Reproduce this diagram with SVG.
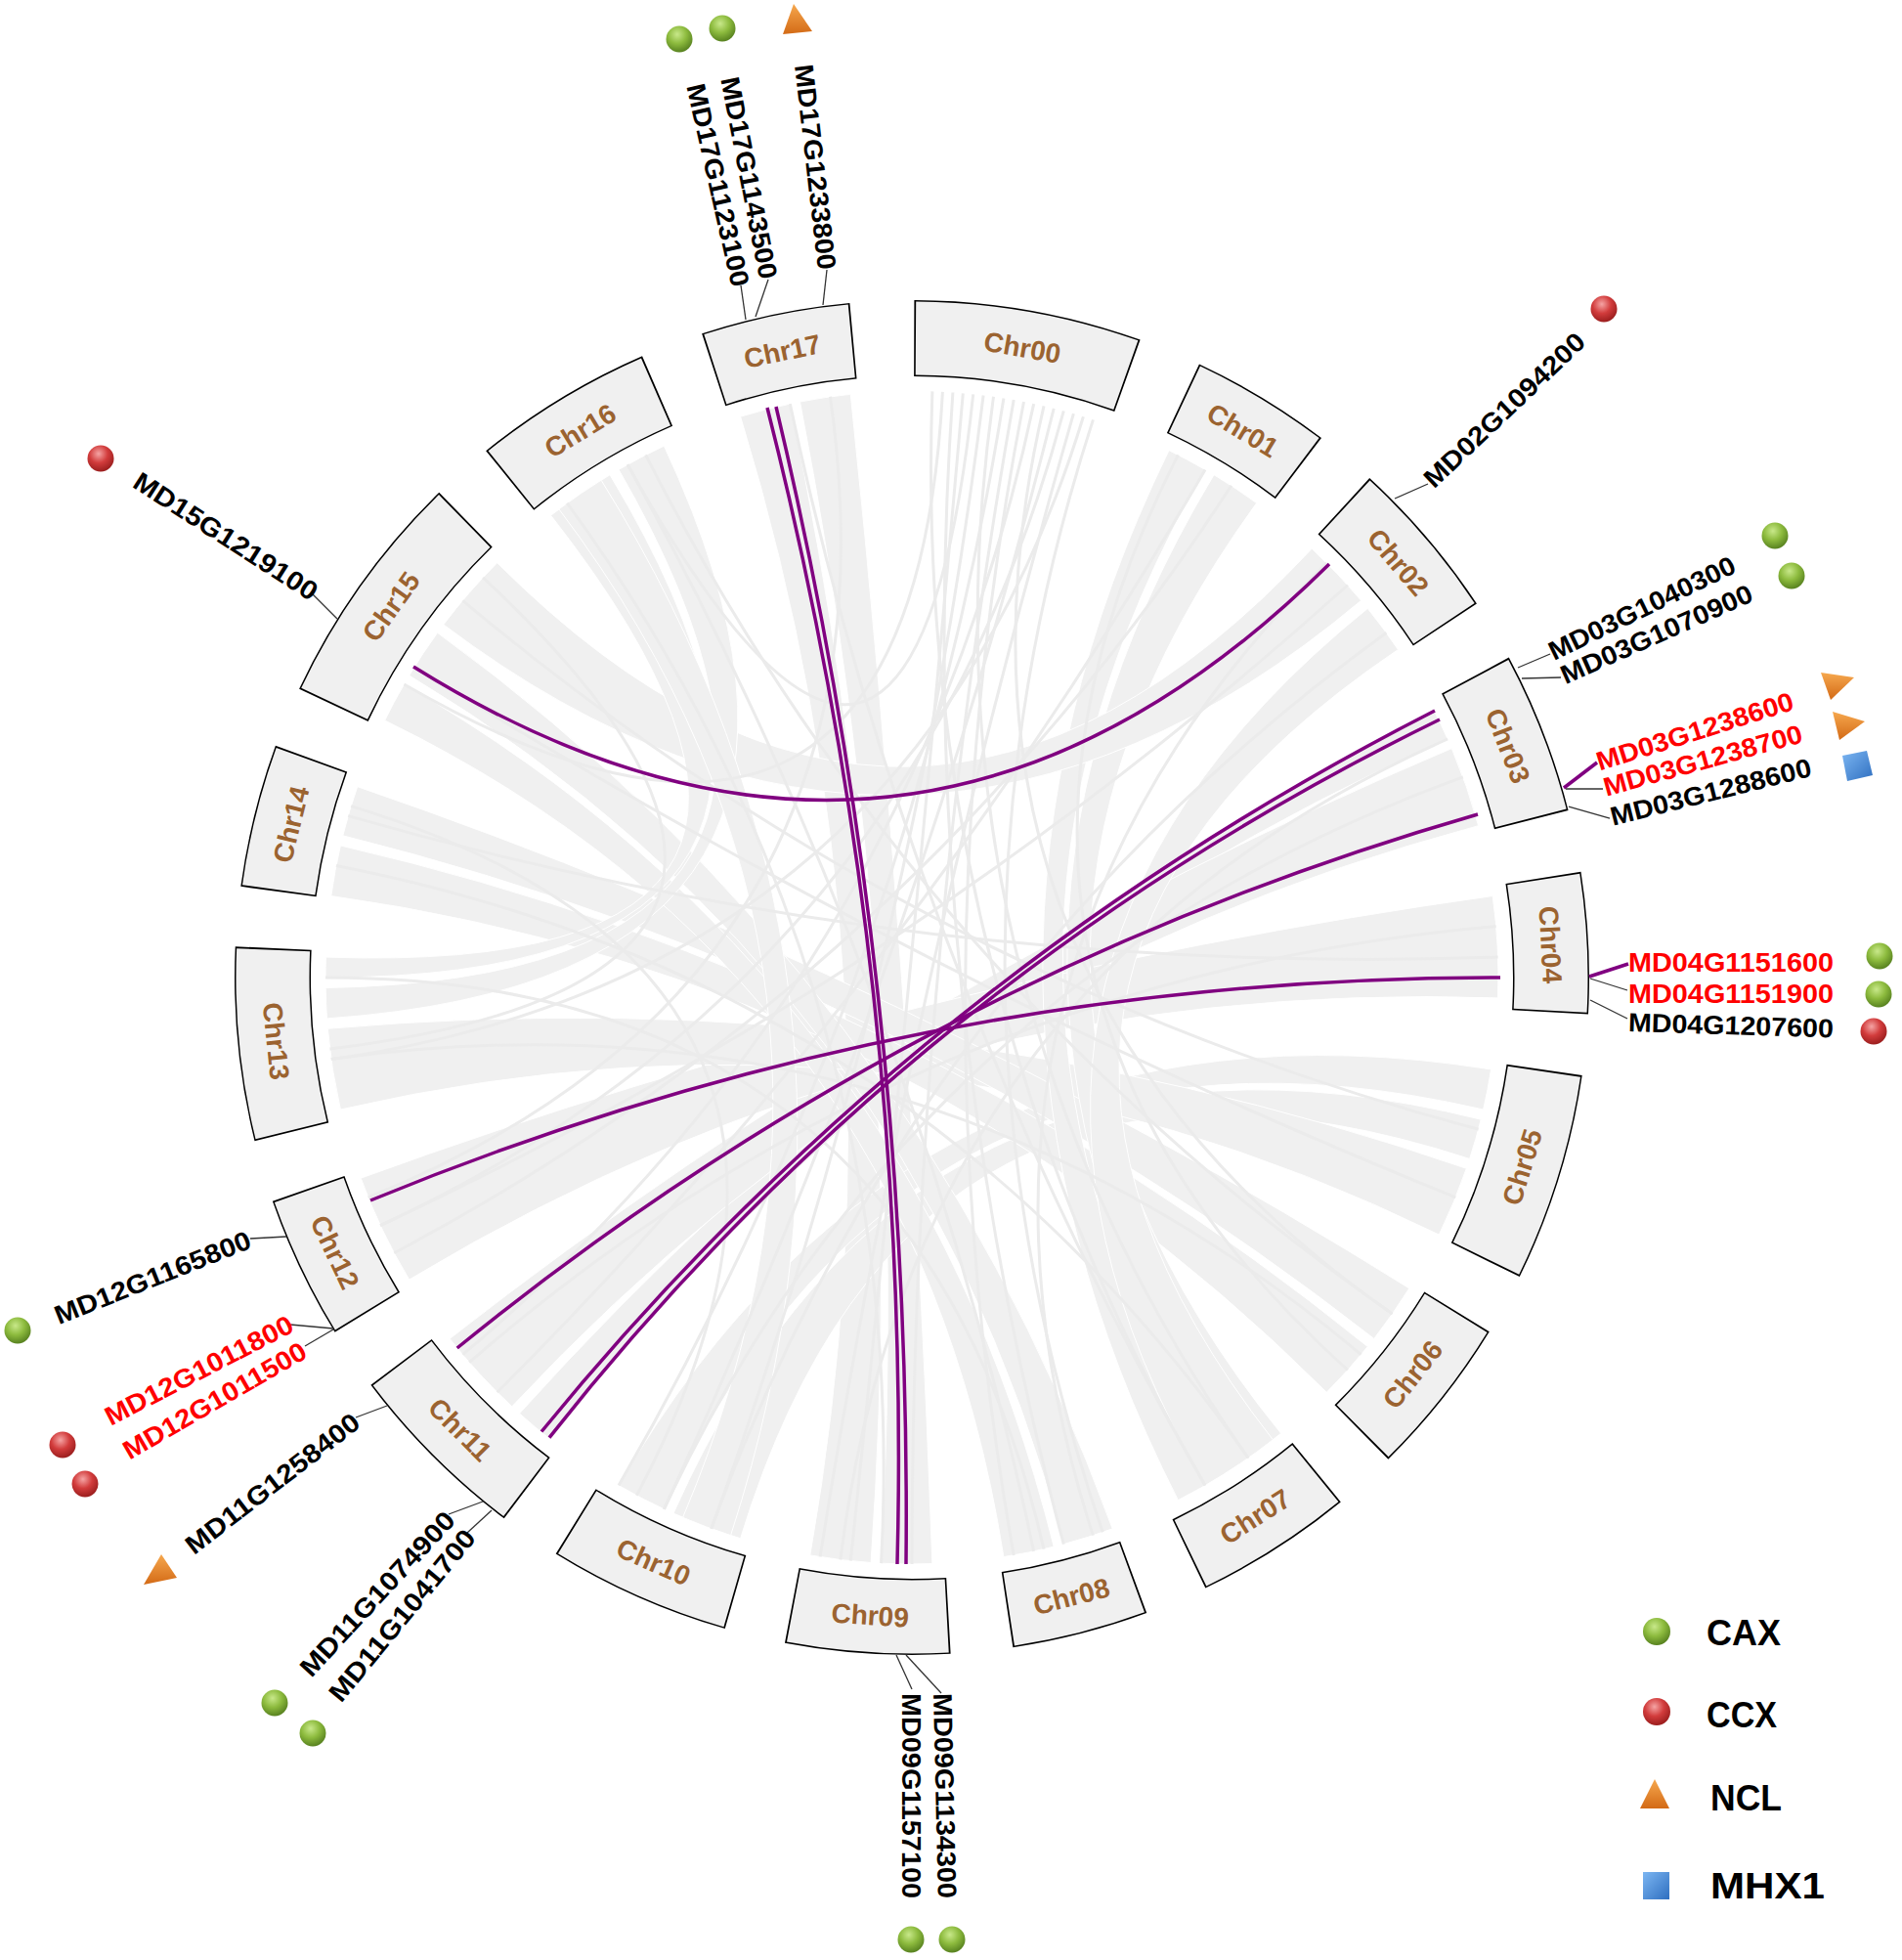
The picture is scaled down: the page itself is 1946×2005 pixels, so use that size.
<svg xmlns="http://www.w3.org/2000/svg" width="1946" height="2005" viewBox="0 0 1946 2005">
<defs>
<style>
.rb{fill:#f0f0f0;stroke:#ffffff;stroke-width:1}
.tl{fill:none;stroke:#ebebeb;stroke-width:3}
.pk{fill:none;stroke:#800080;stroke-width:3.5}
.bo{fill:none;stroke:#000;stroke-width:78}
.bi{fill:none;stroke:#f0f0f0;stroke-width:75}
.cl{font-family:"Liberation Sans",Arial,sans-serif;font-size:28px;font-weight:bold;fill:#9b6330;text-anchor:middle;dominant-baseline:central}
.g{font-family:"Liberation Sans",Arial,sans-serif;font-size:27px;font-weight:bold;fill:#000;dominant-baseline:central}
.r{fill:#ff0000}
.ld{fill:none;stroke:#333;stroke-width:1.3}
.pl{fill:none;stroke:#800080;stroke-width:3.5}
.lg{font-family:"Liberation Sans",Arial,sans-serif;font-size:37px;font-weight:bold;fill:#000}
.mg{fill:url(#gG)}
.mr{fill:url(#gR)}
.mo{fill:url(#gO)}
.mb{fill:url(#gB)}
</style>
<radialGradient id="gG" cx="0.42" cy="0.32" r="0.7"><stop offset="0" stop-color="#c8e88a"/><stop offset="0.5" stop-color="#8dbb3e"/><stop offset="1" stop-color="#557f1e"/></radialGradient>
<radialGradient id="gR" cx="0.42" cy="0.32" r="0.7"><stop offset="0" stop-color="#f5a4a4"/><stop offset="0.5" stop-color="#d23c3c"/><stop offset="1" stop-color="#981c1c"/></radialGradient>
<linearGradient id="gO" x1="0" y1="0" x2="0" y2="1"><stop offset="0" stop-color="#f6a84e"/><stop offset="1" stop-color="#d36a16"/></linearGradient>
<linearGradient id="gB" x1="0" y1="0" x2="1" y2="1"><stop offset="0" stop-color="#7cb6f2"/><stop offset="1" stop-color="#2f6fc0"/></linearGradient>
</defs>
<rect width="1946" height="2005" fill="#fff"/>

<g id="ribbons">
<path class="rb" d="M1467.6 727.6A600 600 0 0 1 1481.1 756Q933 1000 563.6 1472.8A600 600 0 0 1 531.5 1445.9Q933 1000 1467.6 727.6Z"/>
<path class="rb" d="M1485.3 765.6A600 600 0 0 1 1512.6 844.7Q933 1000 523.8 1438.8A600 600 0 0 1 460.2 1369.4Q933 1000 1485.3 765.6Z"/>
<path class="rb" d="M1527.2 916.5A600 600 0 0 1 1532.6 1020.9Q933 1000 418.7 1309A600 600 0 0 1 369.2 1205.2Q933 1000 1527.2 916.5Z"/>
<path class="rb" d="M953.9 1599.6A600 600 0 0 1 901.6 1599.2Q933 1000 818.5 411A600 600 0 0 1 870.3 403.3Q933 1000 953.9 1599.6Z"/>
<path class="rb" d="M891.1 1598.5A600 600 0 0 1 828.8 1590.9Q933 1000 757.6 426.2A600 600 0 0 1 808.3 413.1Q933 1000 891.1 1598.5Z"/>
<path class="rb" d="M1525.6 1093.9A600 600 0 0 1 1517.6 1135Q933 1000 679.4 1543.8A600 600 0 0 1 633 1519.6Q933 1000 1525.6 1093.9Z"/>
<path class="rb" d="M1515.2 1145.2A600 600 0 0 1 1503.6 1185.4Q933 1000 757.6 1573.8A600 600 0 0 1 689 1548.1Q933 1000 1515.2 1145.2Z"/>
<path class="rb" d="M1500.3 1195.3A600 600 0 0 1 1472.3 1263Q933 1000 348.4 1135A600 600 0 0 1 335.3 1052.3Q933 1000 1500.3 1195.3Z"/>
<path class="rb" d="M1441.8 1317.9A600 600 0 0 1 1405.8 1369.4Q933 1000 350.8 854.8A600 600 0 0 1 365.7 804.7Q933 1000 1441.8 1317.9Z"/>
<path class="rb" d="M1399.3 1377.6A600 600 0 0 1 1357.3 1424.3Q933 1000 338.8 916.5A600 600 0 0 1 348.4 865Q933 1000 1399.3 1377.6Z"/>
<path class="rb" d="M1196 460.7A600 600 0 0 1 1233 480.4Q933 1000 1250.9 1508.8A600 600 0 0 1 1205.4 1534.6Q933 1000 1196 460.7Z"/>
<path class="rb" d="M1242 485.7A600 600 0 0 1 1285.7 514.6Q933 1000 1310.6 1466.3A600 600 0 0 1 1259.8 1503.2Q933 1000 1242 485.7Z"/>
<path class="rb" d="M1138.2 1563.8A600 600 0 0 1 1088.3 1579.6Q933 1000 418.7 691A600 600 0 0 1 447.6 647.3Q933 1000 1138.2 1563.8Z"/>
<path class="rb" d="M1078.2 1582.2A600 600 0 0 1 1026.9 1592.6Q933 1000 393.7 737A600 600 0 0 1 413.4 700Q933 1000 1078.2 1582.2Z"/>
<path class="rb" d="M1342.2 561.2A600 600 0 0 1 1392.6 614.3Q933 1000 453.8 638.9A600 600 0 0 1 508.7 575.7Q933 1000 1342.2 561.2Z"/>
<path class="rb" d="M334.5 1041.9A600 600 0 0 1 333.1 1010.5Q933 1000 633 480.4A600 600 0 0 1 679.4 456.2Q933 1000 334.5 1041.9Z"/>
<path class="rb" d="M333 1000A600 600 0 0 1 333.4 979.1Q933 1000 563.6 527.2A600 600 0 0 1 624 485.7Q933 1000 333 1000Z"/>
<path class="rb" d="M1399.3 622.4A600 600 0 0 1 1430.4 664.5Q933 1000 1302.4 1472.8A600 600 0 0 1 1233 1519.6Q933 1000 1399.3 622.4Z"/>
<path class="rb" d="M747.6 1570.6A600 600 0 0 1 698.6 1552.3Q933 1000 571.9 520.8A600 600 0 0 1 615.1 491.2Q933 1000 747.6 1570.6Z"/>
</g>

<g id="thin-links">
<path class="tl" d="M953.9 400.4Q933 1000 1233 1519.6"/>
<path class="tl" d="M974.9 401.5Q933 1000 1088.3 1579.6"/>
<path class="tl" d="M985.3 402.3Q933 1000 870.3 1596.7"/>
<path class="tl" d="M1006.1 404.5Q933 1000 727.8 1563.8"/>
<path class="tl" d="M1016.5 405.8Q933 1000 1277.1 1491.5"/>
<path class="tl" d="M1026.9 407.4Q933 1000 633 1519.6"/>
<path class="tl" d="M1047.5 411Q933 1000 1037.2 1590.9"/>
<path class="tl" d="M1057.7 413.1Q933 1000 473.4 1385.7"/>
<path class="tl" d="M1068 415.4Q933 1000 1424.5 1344.1"/>
<path class="tl" d="M1088.3 420.4Q933 1000 389.2 1253.6"/>
<path class="tl" d="M1098.4 423.2Q933 1000 839.1 1592.6"/>
<path class="tl" d="M1108.4 426.2Q933 1000 338.8 1083.5"/>
<path class="tl" d="M1118.4 429.4Q933 1000 1128.3 1567.3"/>
<path class="tl" d="M964.4 400.8Q933 1000 413.4 700"/>
<path class="tl" d="M995.7 403.3Q933 1000 642.1 475.2"/>
<path class="tl" d="M1037.2 409.1Q933 1000 933 1600"/>
<path class="tl" d="M1078.2 417.8Q933 1000 679.4 1543.8"/>
<path class="tl" d="M580.3 514.6Q933 1000 901.6 1599.2"/>
<path class="tl" d="M642.1 475.2Q933 1000 1057.7 1586.9"/>
<path class="tl" d="M424.2 682.1Q933 1000 1489.3 1224.8"/>
<path class="tl" d="M356.2 834.6Q933 1000 1532.6 979.1"/>
<path class="tl" d="M389.2 1253.6Q933 1000 1378.9 598.5"/>
<path class="tl" d="M508.7 1424.3Q933 1000 1233 480.4"/>
<path class="tl" d="M679.4 1543.8Q933 1000 1496.8 794.8"/>
<path class="tl" d="M338.8 1083.5Q933 1000 1392.6 1385.7"/>
<path class="tl" d="M808.3 413.1Q933 1000 1233 1519.6"/>
<path class="tl" d="M1259.8 496.8Q933 1000 403.3 1281.7"/>
<path class="tl" d="M1418.4 647.3Q933 1000 727.8 1563.8"/>
<path class="tl" d="M1424.5 1344.1Q933 1000 660.6 465.4"/>
<path class="tl" d="M1277.1 1491.5Q933 1000 344 885.5"/>
<path class="tl" d="M1118.4 1570.6Q933 1000 1357.3 575.7"/>
<path class="tl" d="M1512.6 1155.3Q933 1000 473.4 614.3"/>
<path class="tl" d="M859.9 1595.5Q933 1000 1481.1 756"/>
<path class="tl" d="M1530.7 947.7Q933 1000 480.2 1393.6"/>
<path class="tl" d="M333 1000Q933 1000 1068 1584.6"/>
<path class="tl" d="M359.2 824.6Q933 1000 651.3 1529.7"/>
<path class="tl" d="M849.5 405.8Q933 1000 376.7 1224.8"/>
<path class="tl" d="M1205.4 465.4Q933 1000 1378.9 1401.5"/>
<path class="tl" d="M494.2 590.8Q933 1000 337.5 1073.1"/>
</g>

<g id="links">
<path class="pk" d="M423 682Q933 1000 1360 577"/>
<path class="pk" d="M785 417Q933 1000 918 1600"/>
<path class="pk" d="M794 416Q933 1000 927 1600"/>
<path class="pk" d="M1468 727Q933 1000 554 1464.5"/>
<path class="pk" d="M1473 736Q933 1000 562 1470.6"/>
<path class="pk" d="M1512 833Q933 1000 467.7 1379"/>
<path class="pk" d="M1535 1000Q933 1000 379 1228"/>
</g>

<g id="chr00"><circle class="bo" cx="933" cy="1000" r="654" stroke-dasharray="222.58 5000" stroke-dashoffset="-2.28" transform="rotate(-90 933 1000)"/><circle class="bi" cx="933" cy="1000" r="654" stroke-dasharray="219.16 5000" stroke-dashoffset="-3.995" transform="rotate(-90 933 1000)"/><text class="cl" x="933" y="346" transform="rotate(9.95 933 1000)">Chr00</text></g>
<g id="chr01"><circle class="bo" cx="933" cy="1000" r="654" stroke-dasharray="138.11 5000" stroke-dashoffset="-286.5" transform="rotate(-90 933 1000)"/><circle class="bi" cx="933" cy="1000" r="654" stroke-dasharray="134.69 5000" stroke-dashoffset="-288.21" transform="rotate(-90 933 1000)"/><text class="cl" x="933" y="346" transform="rotate(31.15 933 1000)">Chr01</text></g>
<g id="chr02"><circle class="bo" cx="933" cy="1000" r="654" stroke-dasharray="159.8 5000" stroke-dashoffset="-485.11" transform="rotate(-90 933 1000)"/><circle class="bi" cx="933" cy="1000" r="654" stroke-dasharray="156.38 5000" stroke-dashoffset="-486.82" transform="rotate(-90 933 1000)"/><text class="cl" x="933" y="346" transform="rotate(49.5 933 1000)">Chr02</text></g>
<g id="chr03"><circle class="bo" cx="933" cy="1000" r="654" stroke-dasharray="158.66 5000" stroke-dashoffset="-705.41" transform="rotate(-90 933 1000)"/><circle class="bi" cx="933" cy="1000" r="654" stroke-dasharray="155.24 5000" stroke-dashoffset="-707.12" transform="rotate(-90 933 1000)"/><text class="cl" x="933" y="346" transform="rotate(68.75 933 1000)">Chr03</text></g>
<g id="chr04"><circle class="bo" cx="933" cy="1000" r="654" stroke-dasharray="138.11 5000" stroke-dashoffset="-924.57" transform="rotate(-90 933 1000)"/><circle class="bi" cx="933" cy="1000" r="654" stroke-dasharray="134.69 5000" stroke-dashoffset="-926.28" transform="rotate(-90 933 1000)"/><text class="cl" x="933" y="346" transform="rotate(87.05 933 1000)">Chr04</text></g>
<g id="chr05"><circle class="bo" cx="933" cy="1000" r="654" stroke-dasharray="204.32 5000" stroke-dashoffset="-1122.04" transform="rotate(-90 933 1000)"/><circle class="bi" cx="933" cy="1000" r="654" stroke-dasharray="200.89 5000" stroke-dashoffset="-1123.75" transform="rotate(-90 933 1000)"/><text class="cl" x="933" y="346" transform="rotate(107.25 933 1000) rotate(180 933 346)">Chr05</text></g>
<g id="chr06"><circle class="bo" cx="933" cy="1000" r="654" stroke-dasharray="157.52 5000" stroke-dashoffset="-1386.85" transform="rotate(-90 933 1000)"/><circle class="bi" cx="933" cy="1000" r="654" stroke-dasharray="154.09 5000" stroke-dashoffset="-1388.56" transform="rotate(-90 933 1000)"/><text class="cl" x="933" y="346" transform="rotate(128.4 933 1000) rotate(180 933 346)">Chr06</text></g>
<g id="chr07"><circle class="bo" cx="933" cy="1000" r="654" stroke-dasharray="155.24 5000" stroke-dashoffset="-1606.01" transform="rotate(-90 933 1000)"/><circle class="bi" cx="933" cy="1000" r="654" stroke-dasharray="151.81 5000" stroke-dashoffset="-1607.72" transform="rotate(-90 933 1000)"/><text class="cl" x="933" y="346" transform="rotate(147.5 933 1000) rotate(180 933 346)">Chr07</text></g>
<g id="chr08"><circle class="bo" cx="933" cy="1000" r="654" stroke-dasharray="133.55 5000" stroke-dashoffset="-1822.88" transform="rotate(-90 933 1000)"/><circle class="bi" cx="933" cy="1000" r="654" stroke-dasharray="130.12 5000" stroke-dashoffset="-1824.59" transform="rotate(-90 933 1000)"/><text class="cl" x="933" y="346" transform="rotate(165.55 933 1000) rotate(180 933 346)">Chr08</text></g>
<g id="chr09"><circle class="bo" cx="933" cy="1000" r="654" stroke-dasharray="160.94 5000" stroke-dashoffset="-2016.92" transform="rotate(-90 933 1000)"/><circle class="bi" cx="933" cy="1000" r="654" stroke-dasharray="157.52 5000" stroke-dashoffset="-2018.64" transform="rotate(-90 933 1000)"/><text class="cl" x="933" y="346" transform="rotate(183.75 933 1000) rotate(180 933 346)">Chr09</text></g>
<g id="chr10"><circle class="bo" cx="933" cy="1000" r="654" stroke-dasharray="179.21 5000" stroke-dashoffset="-2237.22" transform="rotate(-90 933 1000)"/><circle class="bi" cx="933" cy="1000" r="654" stroke-dasharray="175.78 5000" stroke-dashoffset="-2238.93" transform="rotate(-90 933 1000)"/><text class="cl" x="933" y="346" transform="rotate(203.85 933 1000) rotate(180 933 346)">Chr10</text></g>
<g id="chr11"><circle class="bo" cx="933" cy="1000" r="654" stroke-dasharray="182.63 5000" stroke-dashoffset="-2476.92" transform="rotate(-90 933 1000)"/><circle class="bi" cx="933" cy="1000" r="654" stroke-dasharray="179.21 5000" stroke-dashoffset="-2478.64" transform="rotate(-90 933 1000)"/><text class="cl" x="933" y="346" transform="rotate(225 933 1000) rotate(180 933 346)">Chr11</text></g>
<g id="chr12"><circle class="bo" cx="933" cy="1000" r="654" stroke-dasharray="140.4 5000" stroke-dashoffset="-2721.19" transform="rotate(-90 933 1000)"/><circle class="bi" cx="933" cy="1000" r="654" stroke-dasharray="136.97 5000" stroke-dashoffset="-2722.91" transform="rotate(-90 933 1000)"/><text class="cl" x="933" y="346" transform="rotate(244.55 933 1000) rotate(180 933 346)">Chr12</text></g>
<g id="chr13"><circle class="bo" cx="933" cy="1000" r="654" stroke-dasharray="189.48 5000" stroke-dashoffset="-2922.09" transform="rotate(-90 933 1000)"/><circle class="bi" cx="933" cy="1000" r="654" stroke-dasharray="186.05 5000" stroke-dashoffset="-2923.8" transform="rotate(-90 933 1000)"/><text class="cl" x="933" y="346" transform="rotate(264.3 933 1000) rotate(180 933 346)">Chr13</text></g>
<g id="chr14"><circle class="bo" cx="933" cy="1000" r="654" stroke-dasharray="140.4 5000" stroke-dashoffset="-3169.78" transform="rotate(-90 933 1000)"/><circle class="bi" cx="933" cy="1000" r="654" stroke-dasharray="136.97 5000" stroke-dashoffset="-3171.49" transform="rotate(-90 933 1000)"/><text class="cl" x="933" y="346" transform="rotate(283.85 933 1000)">Chr14</text></g>
<g id="chr15"><circle class="bo" cx="933" cy="1000" r="654" stroke-dasharray="234 5000" stroke-dashoffset="-3369.53" transform="rotate(-90 933 1000)"/><circle class="bi" cx="933" cy="1000" r="654" stroke-dasharray="230.57 5000" stroke-dashoffset="-3371.24" transform="rotate(-90 933 1000)"/><text class="cl" x="933" y="346" transform="rotate(305.45 933 1000)">Chr15</text></g>
<g id="chr16"><circle class="bo" cx="933" cy="1000" r="654" stroke-dasharray="176.92 5000" stroke-dashoffset="-3664.02" transform="rotate(-90 933 1000)"/><circle class="bi" cx="933" cy="1000" r="654" stroke-dasharray="173.5 5000" stroke-dashoffset="-3665.73" transform="rotate(-90 933 1000)"/><text class="cl" x="933" y="346" transform="rotate(328.75 933 1000)">Chr16</text></g>
<g id="chr17"><circle class="bo" cx="933" cy="1000" r="654" stroke-dasharray="146.1 5000" stroke-dashoffset="-3902.58" transform="rotate(-90 933 1000)"/><circle class="bi" cx="933" cy="1000" r="654" stroke-dasharray="142.68 5000" stroke-dashoffset="-3904.29" transform="rotate(-90 933 1000)"/><text class="cl" x="933" y="346" transform="rotate(348.3 933 1000)">Chr17</text></g>

<g id="leaders">
<path class="ld" d="M758 292L763 327"/>
<path class="ld" d="M786 286L773 324"/>
<path class="ld" d="M846 276L842 312"/>
<path class="ld" d="M1427 510L1461 495"/>
<path class="ld" d="M1553 683L1586 669"/>
<path class="ld" d="M1557 694L1597 693"/>
<path class="pl" d="M1600 806L1634 780"/>
<path class="ld" d="M1602 807L1640 807"/>
<path class="ld" d="M1605 825L1647 837"/>
<path class="pl" d="M1626 999L1666 986"/>
<path class="ld" d="M1627 1001L1665 1013"/>
<path class="ld" d="M1627 1023L1665 1042"/>
<path class="ld" d="M256 1267L293 1265"/>
<path class="ld" d="M297 1355L341 1359"/>
<path class="ld" d="M312 1377L341 1360"/>
<path class="ld" d="M364 1450L396 1438"/>
<path class="ld" d="M459 1549L494 1536"/>
<path class="ld" d="M478 1568L503 1545"/>
<path class="ld" d="M319 607L345 633"/>
<path class="ld" d="M917 1693L933 1728"/>
<path class="ld" d="M927 1693L963 1732"/>
</g>

<g id="gene-labels">
<text class="g" x="711" y="86" transform="rotate(77.3 711 86)" textLength="212" lengthAdjust="spacingAndGlyphs">MD17G1123100</text>
<text class="g" x="746" y="79" transform="rotate(79 746 79)" textLength="210" lengthAdjust="spacingAndGlyphs">MD17G1143500</text>
<text class="g" x="822" y="66" transform="rotate(83.5 822 66)" textLength="211" lengthAdjust="spacingAndGlyphs">MD17G1233800</text>
<text class="g" x="1461" y="494" transform="rotate(-43.5 1461 494)" textLength="216" lengthAdjust="spacingAndGlyphs">MD02G1094200</text>
<text class="g" x="1586" y="668" transform="rotate(-25.9 1586 668)" textLength="209" lengthAdjust="spacingAndGlyphs">MD03G1040300</text>
<text class="g" x="1598" y="692" transform="rotate(-23.9 1598 692)" textLength="212" lengthAdjust="spacingAndGlyphs">MD03G1070900</text>
<text class="g r" x="1634" y="780" transform="rotate(-17.5 1634 780)" textLength="210" lengthAdjust="spacingAndGlyphs">MD03G1238600</text>
<text class="g r" x="1641" y="806" transform="rotate(-15.4 1641 806)" textLength="210" lengthAdjust="spacingAndGlyphs">MD03G1238700</text>
<text class="g" x="1648" y="836" transform="rotate(-14 1648 836)" textLength="211" lengthAdjust="spacingAndGlyphs">MD03G1288600</text>
<text class="g r" x="1666" y="985" textLength="210" lengthAdjust="spacingAndGlyphs">MD04G1151600</text>
<text class="g r" x="1666" y="1017" textLength="210" lengthAdjust="spacingAndGlyphs">MD04G1151900</text>
<text class="g" x="1666" y="1046" transform="rotate(1.8 1666 1046)" textLength="210" lengthAdjust="spacingAndGlyphs">MD04G1207600</text>
<text class="g" x="57" y="1347" transform="rotate(-21.8 57 1347)" textLength="214" lengthAdjust="spacingAndGlyphs">MD12G1165800</text>
<text class="g r" x="109" y="1451" transform="rotate(-27.3 109 1451)" textLength="213" lengthAdjust="spacingAndGlyphs">MD12G1011800</text>
<text class="g r" x="128" y="1486" transform="rotate(-30 128 1486)" textLength="212" lengthAdjust="spacingAndGlyphs">MD12G1011500</text>
<text class="g" x="193" y="1584" transform="rotate(-37.6 193 1584)" textLength="217" lengthAdjust="spacingAndGlyphs">MD11G1258400</text>
<text class="g" x="312" y="1711" transform="rotate(-47.2 312 1711)" textLength="219" lengthAdjust="spacingAndGlyphs">MD11G1074900</text>
<text class="g" x="342" y="1737" transform="rotate(-50.5 342 1737)" textLength="219" lengthAdjust="spacingAndGlyphs">MD11G1041700</text>
<text class="g" x="139" y="490" transform="rotate(32.7 139 490)" textLength="218" lengthAdjust="spacingAndGlyphs">MD15G1219100</text>
<text class="g" x="932" y="1732" transform="rotate(90 932 1732)" textLength="210" lengthAdjust="spacingAndGlyphs">MD09G1157100</text>
<text class="g" x="964" y="1732" transform="rotate(88.7 964 1732)" textLength="210" lengthAdjust="spacingAndGlyphs">MD09G1134300</text>
</g>

<g id="markers">
<circle class="mg" cx="695" cy="40" r="13.5"/>
<circle class="mg" cx="739" cy="29" r="13.5"/>
<polygon class="mo" points="812,4 801,35 831,32"/>
<circle class="mr" cx="1641" cy="316" r="13.5"/>
<circle class="mg" cx="1816" cy="548" r="13.5"/>
<circle class="mg" cx="1833" cy="589" r="13.5"/>
<polygon class="mo" points="1863,688 1897,693 1873,716"/>
<polygon class="mo" points="1875,728 1908,738 1882,757"/>
<polygon class="mb" points="1885,773 1910,768 1916,793 1890,799"/>
<circle class="mg" cx="1923" cy="978" r="13.5"/>
<circle class="mg" cx="1922" cy="1017" r="13.5"/>
<circle class="mr" cx="1917" cy="1055" r="13.5"/>
<circle class="mg" cx="18" cy="1361" r="13.5"/>
<circle class="mr" cx="64" cy="1478" r="13.5"/>
<circle class="mr" cx="87" cy="1518" r="13.5"/>
<polygon class="mo" points="147,1621 165,1590 181,1614"/>
<circle class="mg" cx="281" cy="1742" r="13.5"/>
<circle class="mg" cx="320" cy="1773" r="13.5"/>
<circle class="mr" cx="103" cy="469" r="13.5"/>
<circle class="mg" cx="932" cy="1984" r="13.5"/>
<circle class="mg" cx="974" cy="1984" r="13.5"/>
</g>

<g id="legend">
<circle class="mg" cx="1695" cy="1669" r="14"/>
<text class="lg" x="1746" y="1683" textLength="76" lengthAdjust="spacingAndGlyphs">CAX</text>
<circle class="mr" cx="1695" cy="1751" r="14"/>
<text class="lg" x="1746" y="1767" textLength="72" lengthAdjust="spacingAndGlyphs">CCX</text>
<polygon class="mo" points="1693,1820 1678,1850 1708,1850"/>
<text class="lg" x="1750" y="1852" textLength="73" lengthAdjust="spacingAndGlyphs">NCL</text>
<rect class="mb" x="1681" y="1915" width="27" height="28"/>
<text class="lg" x="1750" y="1942" textLength="117" lengthAdjust="spacingAndGlyphs">MHX1</text>
</g>
</svg>
